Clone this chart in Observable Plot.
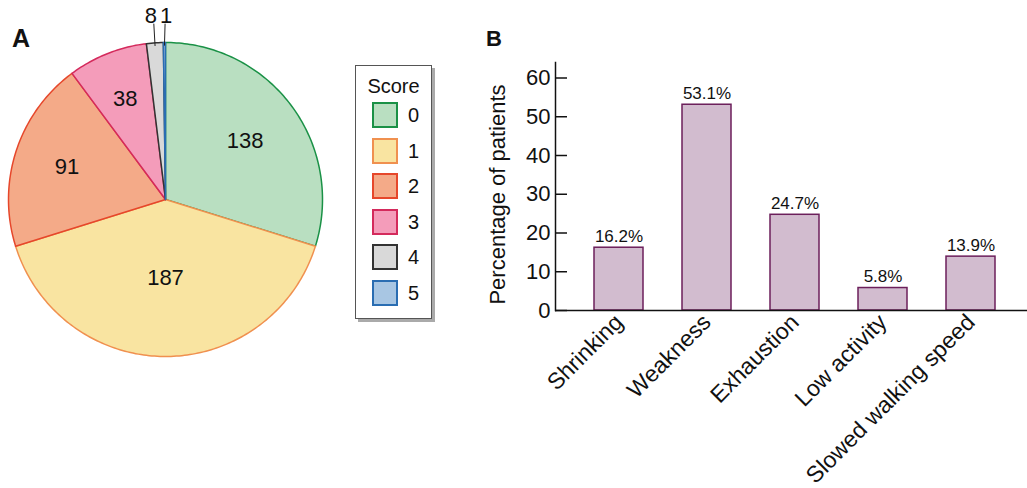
<!DOCTYPE html>
<html>
<head>
<meta charset="utf-8">
<script src="https://cdn.jsdelivr.net/npm/d3@7"></script>
<script src="https://cdn.jsdelivr.net/npm/@observablehq/plot@0.6"></script>
<style>
  html, body { margin: 0; padding: 0; background: #fff; overflow: hidden; }
  body { font-family: "Liberation Sans", Arial, sans-serif; }
  #wrap { position: relative; width: 1027px; height: 488px; }
  #pie { position: absolute; left: 0; top: 0; }
  #bars { position: absolute; left: 470px; top: 0; }
  .panel { position: absolute; font-weight: bold; color: #111; }
  #legend { position: absolute; left: 355px; top: 65px; width: 75px; height: 252px;
            border: 1px solid #555; background: #fff; box-shadow: 3px 3px 0 #aaa; }
  #legend .title { position: absolute; left: 0; width: 100%; top: 9px; text-align: center; font-size: 20px; color: #111; }
  #legend .sw { position: absolute; left: 16px; width: 22px; height: 22px; border: 2px solid; }
  #legend .lab { position: absolute; left: 52px; font-size: 20px; color: #111; line-height: 26px; }
</style>
</head>
<body>
<div id="wrap">
  <div id="pie"></div>
  <div id="bars"></div>
  <div class="panel" style="left:12px;top:24px;font-size:25px;">A</div>
  <div class="panel" style="left:486px;top:26px;font-size:22px;">B</div>
  <div id="legend"></div>
</div>
<script>
// ---- Data ----
const scores = ["0", "1", "2", "3", "4", "5"];
const counts = [138, 187, 91, 38, 8, 1];
const symptoms = ["Shrinking", "Weakness", "Exhaustion", "Low activity", "Slowed walking speed"];
const percents = [16.2, 53.1, 24.7, 5.8, 13.9];
const yTicks = [0, 10, 20, 30, 40, 50, 60];

// ---- Styles ----
const fills   = ["#b9dfc1", "#f9e4a1", "#f4aa88", "#f49cba", "#d9d9d9", "#a8c6e3"];
const strokes = ["#1a9146", "#f0904f", "#e6472b", "#d42a5c", "#333333", "#2a6db2"];
const labelRadius = [0.63, 0.5, 0.66, 0.69];
const FONT = "'Liberation Sans', Arial, sans-serif";

// ---- Pie (panel A) ----
const arcs = d3.pie().sort(null).value(d => d)(counts);
const sliceMarks = arcs.map((a, i) => {
  const pts = [[0, 0]];
  const n = Math.max(2, Math.ceil((a.endAngle - a.startAngle) / (Math.PI / 180)));
  for (let k = 0; k <= n; k++) {
    const t = a.startAngle + (a.endAngle - a.startAngle) * k / n;
    pts.push([Math.sin(t), Math.cos(t)]);
  }
  return Plot.line(pts, {x: d => d[0], y: d => d[1], curve: "linear-closed",
    fill: fills[i], stroke: strokes[i], strokeWidth: 1.5});
});
const mid = a => (a.startAngle + a.endAngle) / 2;
const inside = arcs.slice(0, 4).map((a, i) => ({
  x: Math.sin(mid(a)) * labelRadius[i], y: Math.cos(mid(a)) * labelRadius[i], text: String(counts[i])
}));
const outside = arcs.slice(4).map((a, j) => ({
  x1: Math.sin(mid(a)) * 0.98, y1: Math.cos(mid(a)) * 0.98,
  x2: Math.sin(mid(a)) * 0.98 + (j === 0 ? -0.008 : 0.004), y2: 1.12,
  text: String(counts[4 + j])
}));

const pie = Plot.plot({
  width: 470, height: 488,
  x: {domain: [-1, 1], range: [8, 322]},
  y: {domain: [-1, 1], range: [356, 42]},
  axis: null,
  style: {fontFamily: FONT, background: "transparent"},
  marks: [
    ...sliceMarks,
    Plot.text(inside, {x: "x", y: "y", text: "text", fontSize: 22, fill: "#111"}),
    Plot.link(outside, {x1: "x1", y1: "y1", x2: "x2", y2: "y2", stroke: "#222", strokeWidth: 1}),
    Plot.text(outside.slice(0, 1), {x: "x2", y: "y2", text: "text", lineAnchor: "bottom", dy: -1, dx: -3, fontSize: 22, fill: "#111"}),
    Plot.text(outside.slice(1), {x: "x2", y: "y2", text: "text", lineAnchor: "bottom", dy: -1, dx: 1, fontSize: 22, fill: "#111"})
  ]
});
document.getElementById("pie").append(pie);

// ---- Legend ----
const lg = document.getElementById("legend");
const t = document.createElement("div"); t.className = "title"; t.textContent = "Score"; lg.append(t);
scores.forEach((s, i) => {
  const top = 36 + i * 35.6;
  const sw = document.createElement("div"); sw.className = "sw";
  sw.style.top = top + "px"; sw.style.background = fills[i]; sw.style.borderColor = strokes[i];
  const lb = document.createElement("div"); lb.className = "lab";
  lb.style.top = top + "px"; lb.textContent = s;
  lg.append(sw, lb);
});

// ---- Bars (panel B) ----
const barData = symptoms.map((s, i) => ({symptom: s, pct: percents[i]}));
const bars = Plot.plot({
  width: 557, height: 488,
  marginTop: 62, marginBottom: 178, marginLeft: 85, marginRight: 0,
  style: {fontFamily: FONT, background: "transparent", color: "#111"},
  x: {domain: symptoms, range: [85, 565], paddingInner: 0.44, paddingOuter: 0.43},
  y: {domain: [0, 64], range: [310, 62]},
  marks: [
    Plot.barY(barData, {x: "symptom", y: "pct", fill: "#d2bccf", stroke: "#6c1f5b", strokeWidth: 1.5}),
    Plot.text(barData, {x: "symptom", y: "pct", text: d => d.pct.toFixed(1) + "%", lineAnchor: "bottom", dy: -6, fontSize: 17, fill: "#111"}),
    Plot.ruleY([0], {strokeWidth: 1.5, stroke: "#111"}),
    Plot.frame({anchor: "left", strokeWidth: 1.5, stroke: "#111"}),
    Plot.axisY({ticks: yTicks, tickSize: 12, dx: 12, tickPadding: 5, label: null, fontSize: 22, strokeWidth: 1.5}),
    Plot.axisX({tickSize: 0, tickRotate: -45, tickPadding: 8, label: null, fontSize: 23}),
    Plot.text(["Percentage of patients"], {frameAnchor: "left", textAnchor: "middle", rotate: -90, dx: -58, dy: 8, fontSize: 22, fill: "#111"})
  ]
});
document.getElementById("bars").append(bars);
</script>
</body>
</html>
